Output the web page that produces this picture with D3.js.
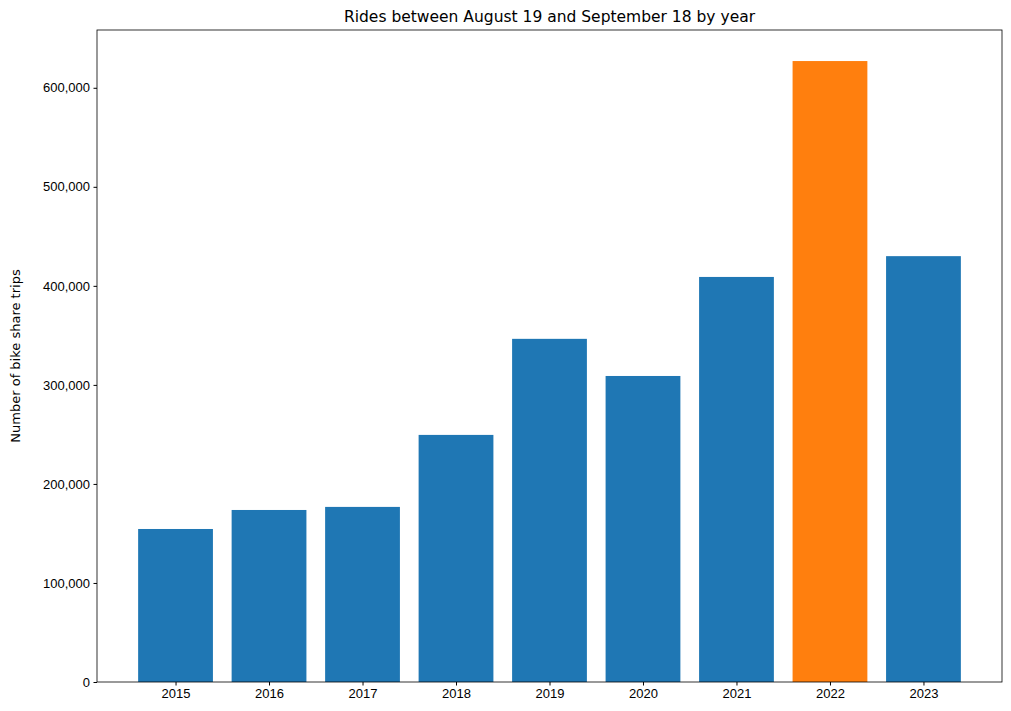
<!DOCTYPE html>
<html><head><meta charset="utf-8">
<script src="https://cdn.jsdelivr.net/npm/d3@7"></script>
<style>body{margin:0;background:#fff}svg{font-family:"DejaVu Sans",sans-serif}</style>
</head><body>
<svg id="c" width="1011" height="711"></svg>
<script>
const years = ["2015","2016","2017","2018","2019","2020","2021","2022","2023"];
const rides = [154500,173700,176800,249500,346500,309000,409000,627000,430000];
const highlight = "2022";
const yTicks = [0,100000,200000,300000,400000,500000,600000];

const L=97,R=1002,T=30,B=682;
const svg=d3.select("#c");
const x=d3.scaleLinear().domain([-0.84,8.84]).range([L,R]);
const y=d3.scaleLinear().domain([0,d3.max(rides)*1.05]).range([B,T]);
const bw=x(0.8)-x(0);

svg.selectAll("rect.bar").data(rides).enter().append("rect")
  .attr("x",(d,i)=>x(i-0.4)).attr("width",bw)
  .attr("y",d=>y(d)).attr("height",d=>B-y(d))
  .attr("fill",(d,i)=>years[i]===highlight?"#ff7f0e":"#1f77b4");

const fmt=d3.format(",");
const ya=svg.append("g").attr("transform",`translate(${L},0)`)
  .call(d3.axisLeft(y).tickValues(yTicks).tickFormat(fmt).tickSize(3.5).tickPadding(3.5));
const xa=svg.append("g").attr("transform",`translate(0,${B})`)
  .call(d3.axisBottom(x).tickValues(d3.range(years.length)).tickFormat(i=>years[i]).tickSize(3.5).tickPadding(3.5));
[ya,xa].forEach(a=>{a.select(".domain").remove();a.selectAll("text").attr("font-size",13).attr("fill","#000");a.selectAll("line").attr("stroke","#000");});

svg.append("rect").attr("x",L).attr("y",T).attr("width",R-L).attr("height",B-T)
  .attr("fill","none").attr("stroke","#000").attr("stroke-width",0.8);

svg.append("text").attr("x",(L+R)/2).attr("y",T-8).attr("text-anchor","middle")
  .attr("font-size",15.5).text("Rides between August 19 and September 18 by year");
svg.append("text").attr("transform",`translate(20,${(T+B)/2}) rotate(-90)`)
  .attr("text-anchor","middle").attr("font-size",13).text("Number of bike share trips");
</script></body></html>
